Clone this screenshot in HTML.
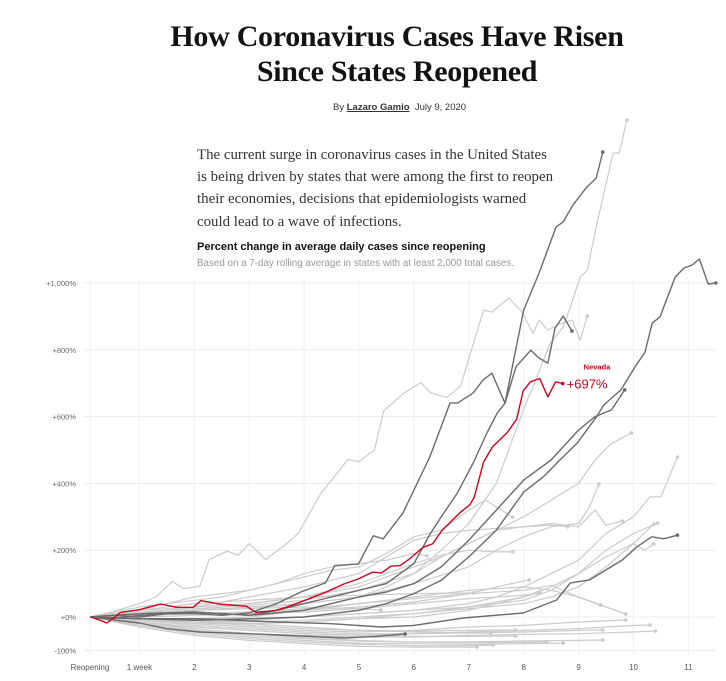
<!DOCTYPE html>
<html><head><meta charset="utf-8">
<style>
body{margin:0;background:#fff;width:726px;height:681px;overflow:hidden;position:relative;font-family:"Liberation Sans",sans-serif}
.title{position:absolute;left:0;width:794px;top:19px;text-align:center;font-family:"Liberation Serif",serif;font-weight:bold;font-size:30px;line-height:35px;color:#121212;letter-spacing:-0.3px}
.byline{position:absolute;left:333px;top:102px;font-size:9.5px;color:#333}
.byline b{text-decoration:underline;font-weight:bold}
.intro{position:absolute;left:197px;top:144px;white-space:nowrap;font-family:"Liberation Serif",serif;font-size:14.9px;line-height:22.2px;color:#333}
.ctitle{position:absolute;left:197px;top:241px;font-size:11px;font-weight:bold;color:#121212}
.csub{position:absolute;left:197px;top:258px;font-size:9.8px;color:#999}
svg{position:absolute;left:0;top:0}
</style></head><body>
<div class="title">How Coronavirus Cases Have Risen<br>Since States Reopened</div>
<div class="byline">By <b>Lazaro Gamio</b> &nbsp;July 9, 2020</div>
<div class="intro">The current surge in coronavirus cases in the United States<br>is being driven by states that were among the first to reopen<br>their economies, decisions that epidemiologists warned<br>could lead to a wave of infections.</div>
<div class="ctitle">Percent change in average daily cases since reopening</div>
<div class="csub">Based on a 7-day rolling average in states with at least 2,000 total cases.</div>
<svg id="chart" width="726" height="681"></svg>
<script>
const yTicks=[1000,800,600,400,200,0,-100];
const yTickLabels=["+1,000%","+800%","+600%","+400%","+200%","+0%","-100%"];
const xTicks=[0.1,1,2,3,4,5,6,7,8,9,10,11];
const xTickLabels=["Reopening","1 week","2","3","4","5","6","7","8","9","10","11"];
const grayLines=[
[[0.1,0],[1,10],[2,20],[3,30],[4,40],[4.5,50],[5,60],[5.5,90],[6,130],[6.5,200],[7,280],[7.5,400],[8.04,640],[8.17,689],[8.48,820],[8.72,868],[8.88,943],[9.03,1018],[9.16,1039],[9.32,1168],[9.63,1389],[9.74,1389],[9.88,1488]],
[[0.1,0],[0.5,15],[1,40],[1.3,60],[1.6,107],[1.8,85],[2.1,92],[2.27,172],[2.6,197],[2.8,185],[3.0,220],[3.3,172],[3.7,222],[3.9,252],[4.3,369],[4.56,422],[4.8,472],[5.0,465],[5.28,500],[5.45,617],[5.83,672],[6.13,702],[6.3,672],[6.6,657],[6.85,692],[7.05,800],[7.27,919],[7.42,913],[7.73,955],[7.97,913],[8.17,850],[8.28,889],[8.44,859],[8.6,874],[8.88,889],[9.03,829],[9.16,901]],
[[0.1,0],[1,20],[2,30],[3,40],[4,60],[5,90],[5.5,120],[6,150],[6.5,180],[7,220],[7.5,260],[8,300],[8.5,350],[9,400],[9.3,470],[9.6,520],[9.96,551]],
[[0.1,0],[1,-10],[2,-15],[3,-10],[4,0],[5,10],[6,20],[7,40],[7.5,60],[8,90],[8.5,130],[9,170],[9.5,250],[10,300],[10.3,360],[10.5,360],[10.8,479]],
[[0.1,0],[1,10],[2,20],[3,25],[4,40],[5,60],[6,100],[7,150],[7.5,200],[8,240],[8.5,270],[9,280],[9.2,330],[9.37,398]],
[[0.1,0],[1,15],[2,25],[3,35],[4,50],[5,80],[6,130],[6.5,180],[7,220],[7.5,260],[8,270],[8.5,280],[9,270],[9.3,320],[9.5,275],[9.8,287]],
[[0.1,0],[1,-5],[2,-10],[3,-15],[4,-10],[5,0],[6,10],[7,25],[8,40],[8.5,60],[9,90],[9.5,150],[10,220],[10.37,278]],
[[0.1,0],[1,-10],[2,-15],[3,-20],[4,-15],[5,-5],[6,0],[7,20],[8,60],[8.5,90],[9,130],[9.5,180],[10,220],[10.2,200],[10.37,219]],
[[0.1,0],[1,10],[2,30],[3,60],[4,90],[5,130],[5.5,180],[6,230],[6.5,250],[7,260],[7.5,265],[8,270],[8.5,275],[8.8,270]],
[[0.1,0],[1,20],[2,60],[2.5,70],[3,80],[3.5,100],[4,120],[4.5,140],[5,150],[5.5,190],[6,240],[6.5,260],[7,320],[7.3,350],[7.8,299]],
[[0.1,0],[1,10],[2,20],[3,40],[4,60],[5,100],[5.5,130],[6,160],[6.5,185],[7,200],[7.5,195],[7.8,195]],
[[0.1,0],[1,30],[2,50],[2.5,60],[3,80],[3.5,100],[4,130],[4.5,150],[5,160],[5.5,170],[6,190],[6.24,183]],
[[0.1,0],[1,5],[2,10],[3,15],[4,20],[5,30],[6,45],[7,70],[7.5,90],[8.1,111]],
[[0.1,0],[1,20],[2,40],[3,50],[4,60],[5,65],[6,70],[7.08,72]],
[[0.1,0],[1,-10],[2,-20],[3,-20],[4,-15],[5,-5],[6,10],[7,30],[8,60],[8.24,72]],
[[0.1,0],[1,10],[2,20],[3,25],[4,30],[5,25],[5.4,21]],
[[0.1,0],[1,-5],[2,-5],[3,0],[4,20],[5,40],[6,60],[7,80],[8,90],[8.5,80],[9,60],[9.5,30],[9.86,9]],
[[0.1,0],[1,-10],[2,-20],[3,-30],[4,-40],[5,-45],[6,-40],[7,-30],[8,-25],[9,-15],[9.86,-9]],
[[0.1,0],[1,-15],[2,-30],[3,-40],[4,-50],[5,-55],[6,-50],[7,-45],[8,-40],[9,-35],[10,-25],[10.3,-24]],
[[0.1,0],[1,-20],[2,-35],[3,-50],[4,-55],[5,-60],[6,-60],[7,-55],[8,-52],[9,-50],[10,-45],[10.4,-42]],
[[0.1,0],[1,-10],[2,-25],[3,-35],[4,-45],[5,-50],[6,-50],[7,-48],[8,-45],[9,-40],[9.44,-39]],
[[0.1,0],[1,-20],[2,-40],[3,-55],[4,-65],[5,-72],[6,-75],[7,-75],[8,-72],[9,-70],[9.44,-69]],
[[0.1,0],[1,-25],[2,-45],[3,-60],[4,-70],[5,-78],[6,-80],[7,-82],[8,-80],[8.72,-78]],
[[0.1,0],[1,-15],[2,-35],[3,-50],[4,-62],[5,-70],[6,-75],[7,-77],[8,-76],[8.42,-75]],
[[0.1,0],[1,-5],[2,-15],[3,-25],[4,-35],[5,-40],[6,-42],[7,-40],[7.85,-39]],
[[0.1,0],[1,-15],[2,-30],[3,-40],[4,-50],[5,-55],[6,-58],[7,-58],[7.85,-57]],
[[0.1,0],[1,-25],[2,-50],[3,-65],[4,-75],[5,-82],[6,-86],[7,-86],[7.44,-84]],
[[0.1,0],[1,-30],[2,-55],[3,-70],[4,-80],[5,-88],[6,-90],[7.15,-90]],
[[0.1,0],[1,-5],[2,-10],[3,-20],[4,-30],[5,-40],[6,-45],[7,-48],[7.4,-48]],
[[0.1,0],[1,5],[2,10],[3,15],[4,25],[5,40],[6,55],[7,70],[8,80],[8.5,95],[9,60],[9.4,36]],
[[0.1,0],[1,0],[2,5],[3,10],[4,15],[5,25],[6,40],[7,55],[8,65],[8.3,72]],
[[0.1,0],[1,-5],[2,-10],[3,-10],[4,0],[5,10],[6,20],[7,30],[8,50],[8.5,80],[9,130],[9.5,200],[10,250],[10.44,281]]
];
const darkLines=[
[[0.1,0],[0.5,-5],[1,5],[1.5,10],[2,10],[2.5,5],[3,12],[3.5,40],[3.97,77],[4.39,102],[4.56,154],[4.99,159],[5.26,243],[5.44,234],[5.8,311],[6.29,479],[6.66,641],[6.8,641],[7.08,671],[7.26,710],[7.42,730],[7.66,640],[8.0,919],[8.28,1030],[8.59,1168],[8.72,1183],[8.9,1234],[9.15,1287],[9.32,1314],[9.44,1392]],
[[0.1,0],[0.5,5],[1,0],[1.5,10],[2,15],[2.5,10],[3,5],[3.5,20],[4,40],[4.5,60],[5,80],[5.5,100],[6,160],[6.3,250],[6.5,300],[6.79,371],[7.08,461],[7.33,551],[7.52,611],[7.66,640],[7.86,749],[8.13,799],[8.28,775],[8.44,760],[8.57,865],[8.72,901],[8.88,856]],
[[0.1,0],[1,-5],[2,-10],[3,-5],[4,0],[5,20],[5.5,40],[6,70],[6.5,110],[7,180],[7.5,260],[8,374],[8.36,420],[8.66,470],[8.97,520],[9.33,600],[9.46,635],[9.77,680],[10.03,749],[10.21,793],[10.34,880],[10.48,898],[10.76,1018],[10.92,1045],[11.07,1054],[11.2,1072],[11.36,997],[11.5,1000]],
[[0.1,0],[1,10],[2,15],[3,5],[4,20],[4.5,40],[5,60],[5.5,75],[6,100],[6.5,150],[7,230],[7.5,320],[8,410],[8.5,470],[9,560],[9.3,600],[9.6,620],[9.84,680]],
[[0.1,0],[1,-5],[2,-5],[2.7,-9],[3.5,-15],[4.5,-20],[5.4,-30],[6,-25],[6.9,-3],[7.99,12],[8.6,51],[8.85,102],[9.2,111],[9.8,171],[10.06,210],[10.33,240],[10.55,234],[10.8,245]],
[[0.1,0],[0.5,-8],[1,-18],[1.5,-35],[2.1,-45],[3,-50],[3.55,-54],[4.73,-63],[5.3,-58],[5.84,-51]]
];
const nevada=[[0.12,0],[0.41,-18],[0.66,14],[1.0,22],[1.38,39],[1.68,29],[1.98,29],[2.12,49],[2.44,39],[2.95,32],[3.12,14],[3.46,19],[3.67,29],[3.97,47],[4.39,74],[4.73,99],[4.99,114],[5.24,134],[5.41,132],[5.58,152],[5.75,154],[5.92,174],[6.17,209],[6.34,219],[6.51,259],[6.85,314],[7.02,336],[7.1,359],[7.27,464],[7.43,509],[7.7,552],[7.87,592],[7.99,677],[8.12,704],[8.29,714],[8.44,659],[8.58,704],[8.71,699]];
const nevadaLabel="+697%";

const NS="http://www.w3.org/2000/svg";
const svg=document.getElementById('chart');
function X(w){return 84.5+w*54.9;}
function Y(v){return 617-v*0.334;}
function mk(t,a){const e=document.createElementNS(NS,t);for(const k in a)e.setAttribute(k,a[k]);svg.appendChild(e);return e;}
yTicks.forEach((v,i)=>{
  const g=mk('line',{x1:84,x2:716,y1:Y(v),y2:Y(v),stroke:'#ececec','stroke-width':1});
  
  
  const t=mk('text',{x:76,y:Y(v)+3,'text-anchor':'end','font-size':7.5,fill:'#666','font-family':'Liberation Sans, sans-serif'});
  t.textContent=yTickLabels[i];
  
  
});
xTicks.forEach((w,i)=>{
  const g=mk('line',{x1:X(w),x2:X(w),y1:280,y2:655,stroke:'#f0f0f0','stroke-width':1});
  
  
  const t=mk('text',{x:X(w),y:670,'text-anchor':'middle','font-size':8,fill:'#555','font-family':'Liberation Sans, sans-serif'});
  t.textContent=xTickLabels[i];
  
  
});
function drawLine(pts,color,width,name){
  const d=pts.map((p,i)=>(i?'L':'M')+X(p[0]).toFixed(1)+' '+Y(p[1]).toFixed(1)).join(' ');
  const p=mk('path',{d:d,fill:'none',stroke:color,'stroke-width':width,'stroke-linejoin':'round'});
  
  
  const l=pts[pts.length-1];
  const c=mk('circle',{cx:X(l[0]),cy:Y(l[1]),r:1.8,fill:color});
  
  
}
grayLines.forEach(s=>drawLine(s,'#cbcbcb',1.2,'state-line'));
darkLines.forEach(s=>drawLine(s,'#6b6b6b',1.4,'highlight-state-line'));
drawLine(nevada,'#d0021b',1.4,'nevada-line');
const last=nevada[nevada.length-1];
const nl=mk('text',{x:X(last[0])+21,y:Y(last[1])-14,'font-size':7.5,'font-weight':'bold',fill:'#d0021b','font-family':'Liberation Sans, sans-serif'});
nl.textContent='Nevada';


const nv=mk('text',{x:X(last[0])+4,y:Y(last[1])+5,'font-size':13,fill:'#d0021b','font-family':'Liberation Sans, sans-serif'});
nv.textContent=nevadaLabel;


</script>
</body></html>
